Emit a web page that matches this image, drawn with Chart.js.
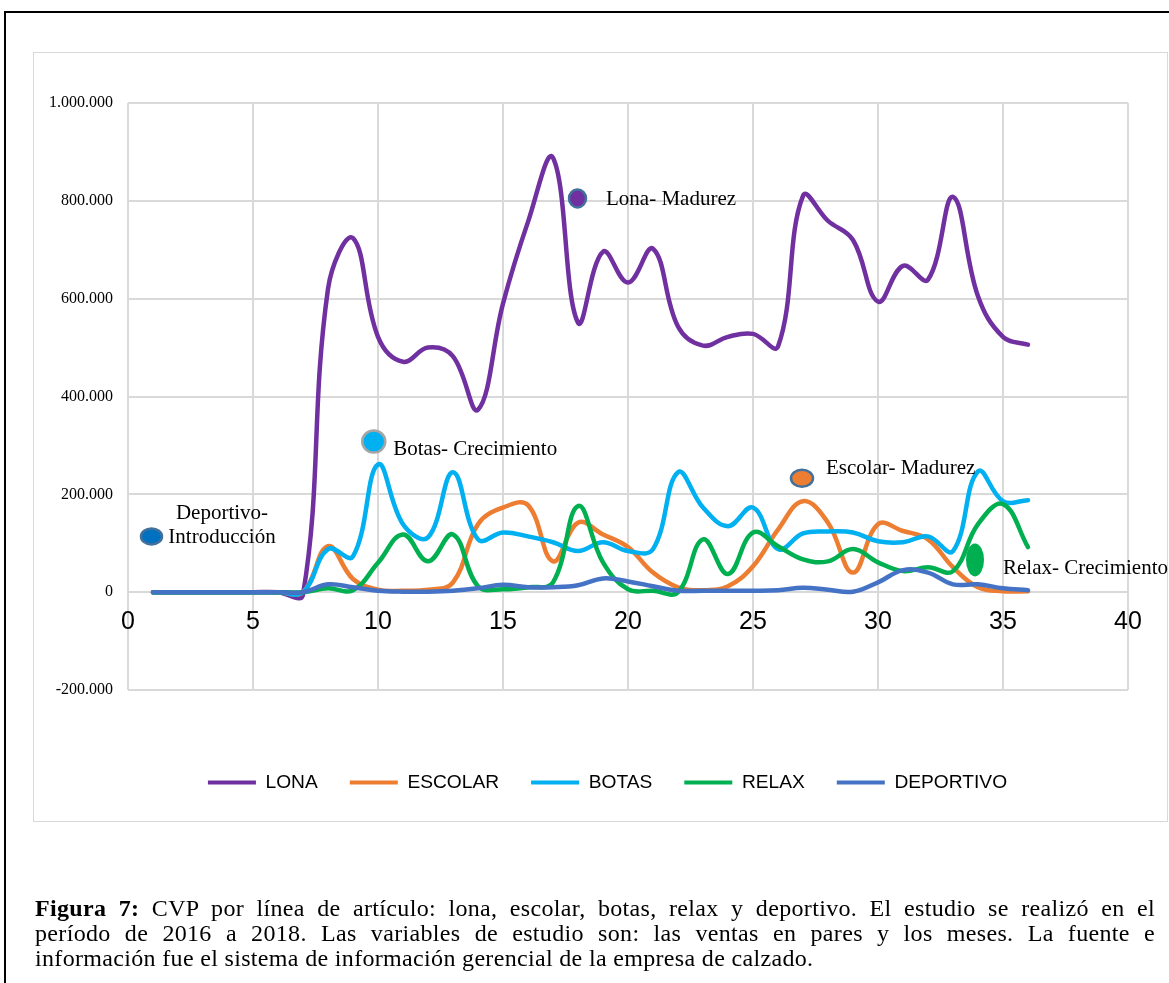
<!DOCTYPE html>
<html>
<head>
<meta charset="utf-8">
<script src="https://cdn.jsdelivr.net/npm/chart.js@4.4.1/dist/chart.umd.min.js"></script>
<style>
  html, body { margin: 0; padding: 0; background: #fff; }
  body { width: 1169px; height: 983px; position: relative; overflow: hidden; }
  #frameTop { position: absolute; left: 4px; top: 11px; width: 1165px; height: 0; border-top: 2px solid #000; }
  #frameLeft { position: absolute; left: 4px; top: 11px; width: 0; height: 972px; border-left: 2px solid #000; }
  #panel { position: absolute; left: 33px; top: 52px; width: 1133px; height: 768px; border: 1px solid #D9D9D9; }
  #chart { position: absolute; left: 0; top: 0; }
  .cap { position: absolute; left: 35px; width: 1120px; font-family: "Liberation Serif", "Times New Roman", serif;
         font-size: 24px; letter-spacing: 0.33px; line-height: 25px; color: #000; white-space: nowrap; }
  .just { text-align: justify; text-align-last: justify; }
</style>
</head>
<body>
<div id="frameTop"></div>
<div id="frameLeft"></div>
<div id="panel"></div>
<canvas id="chart" width="1169" height="983"></canvas>
<div class="cap just" style="top:896px"><b>Figura 7:</b> CVP por línea de artículo: lona, escolar, botas, relax y deportivo. El estudio se realizó en el</div>
<div class="cap just" style="top:921px">período de 2016 a 2018. Las variables de estudio son: las ventas en pares y los meses. La fuente e</div>
<div class="cap" style="top:946px">información fue el sistema de información gerencial de la empresa de calzado.</div>

<script>
// Months of the study period (2016–2018)
const months = [1, 2, 3, 4, 5, 6, 7, 8, 9, 10, 11, 12, 13, 14, 15, 16, 17, 18,
                19, 20, 21, 22, 23, 24, 25, 26, 27, 28, 29, 30, 31, 32, 33, 34, 35, 36];

// Sales in pairs per product line
const lona = [0, 0, 0, 0, 0, 0, -5000, 620000, 724000, 522000, 471000, 500000, 482000, 373000, 590000, 757000, 888000, 551000,
              696000, 633000, 702000, 543000, 504000, 522000, 528000, 502000, 810000, 759000, 720000, 594000, 667000, 639000, 808000, 605000, 522000, 506000];
const escolar = [0, 0, 0, 0, 0, 0, 0, 94000, 27000, 5000, 3000, 5000, 20000, 139000, 173000, 178000, 63000, 142000,
                 118000, 92000, 40000, 10000, 4000, 12000, 53000, 128000, 186000, 142000, 40000, 139000, 125000, 108000, 51000, 10000, 2000, 2000];
const botas = [0, 0, 0, 0, 0, 0, 0, 88000, 73000, 261000, 139000, 112000, 245000, 108000, 122000, 114000, 102000, 84000,
               102000, 84000, 88000, 245000, 173000, 135000, 173000, 88000, 120000, 124000, 122000, 104000, 102000, 114000, 84000, 247000, 186000, 188000];
const relax = [0, 0, 0, 0, 0, 0, 0, 8000, 4000, 60000, 118000, 63000, 118000, 12000, 6000, 10000, 20000, 176000,
               61000, 6000, 3000, 0, 108000, 37000, 122000, 94000, 67000, 63000, 88000, 61000, 43000, 51000, 43000, 139000, 180000, 92000];
const deportivo = [0, 0, 0, 0, 0, 0, 0, 16000, 10000, 3000, 1000, 1000, 3000, 8000, 15000, 10000, 10000, 14000,
                   28000, 22000, 12000, 3000, 3000, 3000, 3000, 4000, 9000, 5000, 1000, 20000, 45000, 40000, 16000, 16000, 8000, 4000];

const seriesNames = ['LONA', 'ESCOLAR', 'BOTAS', 'RELAX', 'DEPORTIVO'];
const seriesValues = [lona, escolar, botas, relax, deportivo];
const seriesColors = ['#7030A0', '#ED7D31', '#00B0F0', '#00B050', '#4472C4'];

// Axis ticks
const xTicks = [0, 5, 10, 15, 20, 25, 30, 35, 40];
const yTicks = [-200000, 0, 200000, 400000, 600000, 800000, 1000000];

// Life-cycle stage call-outs (value coordinates on the chart)
const stageNotes = [
  { x: 0.94, y: 114000, label: ['Deportivo-', 'Introducción'] },
  { x: 9.83, y: 308000, label: ['Botas- Crecimiento'] },
  { x: 17.98, y: 805000, label: ['Lona- Madurez'] },
  { x: 26.96, y: 233000, label: ['Escolar- Madurez'] },
  { x: 33.88, y: 66000, label: ['Relax- Crecimiento'] }
];
const stageStyles = [
  { rx: 10.5, ry: 8, fill: '#0070C0', stroke: '#41719C', align: 'center', dx: 70.5, dy: [-17, 7] },
  { rx: 11.5, ry: 11, fill: '#00B0F0', stroke: '#A5A5A5', align: 'left', dx: 19.5, dy: [13] },
  { rx: 8.5, ry: 9, fill: '#7030A0', stroke: '#41719C', align: 'left', dx: 28.5, dy: [6.5] },
  { rx: 11, ry: 8.5, fill: '#ED7D31', stroke: '#41719C', align: 'left', dx: 24, dy: [-4] },
  { rx: 9, ry: 16.5, fill: '#00B050', stroke: null, align: 'left', dx: 28, dy: [14.5] }
];

function thousands(v) {
  const s = Math.abs(v).toFixed(0).replace(/\B(?=(\d{3})+(?!\d))/g, '.');
  return (v < 0 ? '-' : '') + s;
}

const stagePlugin = {
  id: 'stageNotes',
  afterDatasetsDraw(chart) {
    const { ctx, scales: { x, y } } = chart;
    ctx.save();
    stageNotes.forEach((n, i) => {
      const st = stageStyles[i];
      const px = x.getPixelForValue(n.x);
      const py = y.getPixelForValue(n.y);
      ctx.beginPath();
      ctx.ellipse(px, py, st.rx, st.ry, 0, 0, Math.PI * 2);
      ctx.fillStyle = st.fill;
      ctx.fill();
      if (st.stroke) {
        ctx.lineWidth = 2.5;
        ctx.strokeStyle = st.stroke;
        ctx.stroke();
      }
      ctx.fillStyle = '#000';
      ctx.font = '21px "Liberation Serif", "Times New Roman", serif';
      ctx.textAlign = st.align;
      ctx.textBaseline = 'alphabetic';
      n.label.forEach((line, k) => ctx.fillText(line, px + st.dx, py + st.dy[k]));
    });
    ctx.restore();
  }
};

const datasets = seriesNames.map((name, i) => ({
  label: name,
  data: months.map((m, k) => ({ x: m, y: seriesValues[i][k] })),
  borderColor: seriesColors[i],
  backgroundColor: seriesColors[i],
  borderWidth: 4.5,
  pointRadius: 0,
  tension: 0.4,
  fill: false,
  borderCapStyle: 'round',
  order: seriesNames.length - i
}));

// empty axes used only to reserve space around the plot
const spacer = (size, horizontal) => ({
  type: 'linear',
  position: horizontal ? 'bottom' : 'right',
  display: true,
  grid: { display: false, drawTicks: false },
  border: { display: false },
  ticks: { display: false },
  afterFit(s) { if (horizontal) s.height = size; else s.width = size; }
});

new Chart(document.getElementById('chart'), {
  type: 'line',
  data: { datasets },
  plugins: [stagePlugin],
  options: {
    responsive: false,
    animation: false,
    layout: { padding: { left: 46, right: 0, top: 103, bottom: 181 } },
    plugins: {
      tooltip: { enabled: false },
      legend: {
        position: 'bottom',
        labels: {
          boxWidth: 48,
          boxHeight: 4,
          padding: 32,
          color: '#000',
          font: { family: '"Liberation Sans", Arial, sans-serif', size: 19.2 },
          sort: (a, b) => a.datasetIndex - b.datasetIndex,
          generateLabels(chart) {
            return Chart.defaults.plugins.legend.labels.generateLabels(chart)
              .map(l => Object.assign(l, { fillStyle: l.strokeStyle, lineWidth: 0 }));
          }
        }
      }
    },
    scales: {
      x: {
        type: 'linear',
        position: { y: 0 },
        min: xTicks[0],
        max: xTicks[xTicks.length - 1],
        afterBuildTicks(s) { s.ticks = xTicks.map(v => ({ value: v })); },
        ticks: {
          padding: 15,
          color: '#000',
          font: { family: '"Liberation Sans", Arial, sans-serif', size: 25 },
          maxRotation: 0,
          autoSkip: false
        },
        grid: { color: '#D9D9D9', lineWidth: 2, drawTicks: false },
        border: { color: '#D9D9D9', width: 2 }
      },
      y: {
        position: 'left',
        min: yTicks[0],
        max: yTicks[yTicks.length - 1],
        afterBuildTicks(s) { s.ticks = yTicks.map(v => ({ value: v })); },
        afterFit(s) { s.width = 82; },
        ticks: {
          padding: 15,
          color: '#000',
          font: { family: '"Liberation Serif", "Times New Roman", serif', size: 16 },
          callback: v => thousands(v)
        },
        grid: { color: '#D9D9D9', lineWidth: 2, drawTicks: false },
        border: { display: false }
      },
      gapBottom: spacer(50.8, true),
      gapRight: spacer(41, false)
    }
  }
});
</script>
</body>
</html>
